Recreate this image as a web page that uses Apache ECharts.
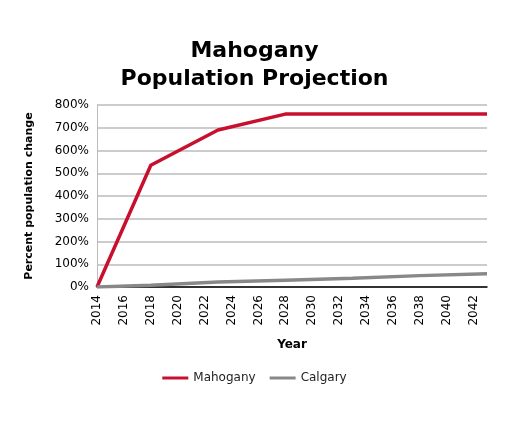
<!DOCTYPE html>
<html>
<head>
<meta charset="utf-8">
<script src="https://cdn.jsdelivr.net/npm/echarts@6/dist/echarts.min.js"></script>
<style>html,body{margin:0;padding:0;background:#fff}#chart{width:509px;height:425px}</style>
</head>
<body>
<div id="chart"></div>
<script>
// years 2014..2043
const years = [];
for (let y = 2014; y <= 2043; y++) years.push(String(y));

// known points
const mahoganyPts = { 2014: 0, 2018: 535, 2023: 690, 2028: 760, 2043: 760 };
const calgaryPts = { 2014: 0, 2018: 8, 2023: 22, 2028: 30, 2033: 38, 2038: 50, 2043: 58 };

const toSeries = pts => years.map(y => (pts[y] !== undefined ? pts[y] : null));

const chart = echarts.init(document.getElementById('chart'));
const font = 'DejaVu Sans';

chart.setOption({
  animation: false,
  textStyle: { fontFamily: font },
  title: {
    text: 'Mahogany\nPopulation Projection',
    left: 'center',
    top: 32,
    textStyle: { fontSize: 22, fontWeight: 'bold', color: '#000', lineHeight: 28, fontFamily: font }
  },
  legend: {
    bottom: 36,
    left: 'center',
    itemWidth: 26,
    itemGap: 14,
    icon: 'rect',
    itemHeight: 3,
    textStyle: { fontSize: 12, color: '#222', fontFamily: font },
    data: ['Mahogany', 'Calgary']
  },
  grid: { left: 97, right: 22, top: 105, bottom: 138 },
  xAxis: {
    type: 'category',
    data: years,
    boundaryGap: false,
    name: 'Year',
    nameLocation: 'middle',
    nameGap: 52,
    nameTextStyle: { fontWeight: 'bold', fontSize: 12, color: '#000' },
    axisLine: { lineStyle: { color: '#000', width: 1.5 } },
    axisTick: { show: false },
    axisLabel: {
      interval: 1, rotate: 90, align: 'right', verticalAlign: 'middle',
      hideOverlap: false, margin: 8, fontSize: 12, color: '#000'
    }
  },
  yAxis: {
    type: 'value',
    min: 0,
    max: 800,
    interval: 100,
    name: 'Percent population change',
    nameLocation: 'middle',
    nameGap: 62,
    nameTextStyle: { fontWeight: 'bold', fontSize: 11, color: '#000' },
    axisLine: { show: true, lineStyle: { color: '#bbb' } },
    axisLabel: { formatter: '{value}%', fontSize: 12, color: '#000' },
    splitLine: { lineStyle: { color: '#bbb', width: 1.5 } }
  },
  series: [
    {
      name: 'Mahogany', type: 'line', data: toSeries(mahoganyPts), connectNulls: true,
      showSymbol: false, color: '#c8102e', lineStyle: { width: 3.5, color: '#c8102e' }
    },
    {
      name: 'Calgary', type: 'line', data: toSeries(calgaryPts), connectNulls: true,
      showSymbol: false, color: '#888', lineStyle: { width: 3.5, color: '#888' }
    }
  ]
});
</script>
</body>
</html>
